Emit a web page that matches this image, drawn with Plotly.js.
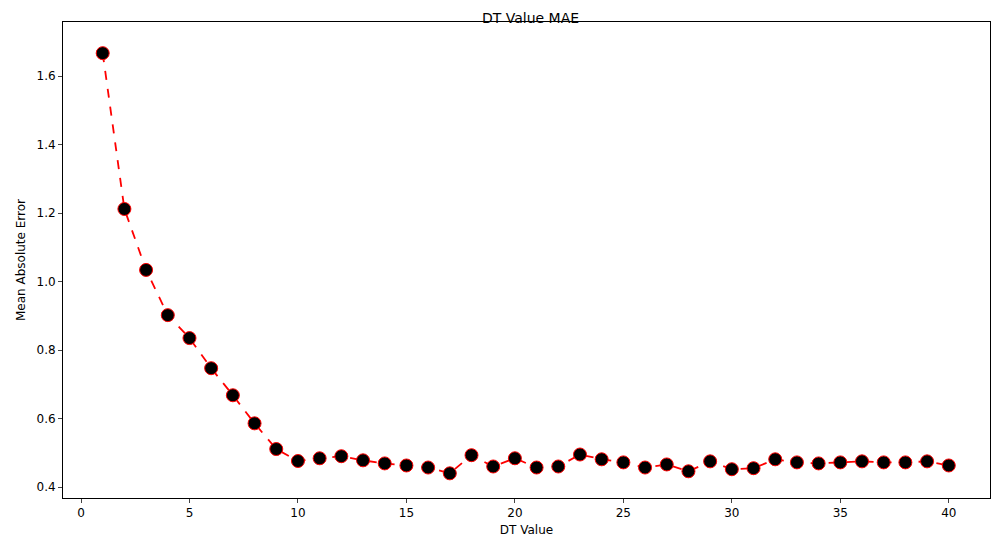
<!DOCTYPE html>
<html>
<head>
<script src="https://cdn.plot.ly/plotly-3.0.1.min.js"></script>
<style>body{margin:0;}</style>
</head>
<body>
<div id="myPlot" style="width:1001px;height:547px;"></div>
<script>
let dtValues = [];
for (let i = 1; i <= 40; i++) dtValues.push(i);
let mae = [1.667, 1.212, 1.034, 0.902, 0.835, 0.747, 0.668, 0.586, 0.511, 0.476,
  0.484, 0.490, 0.478, 0.469, 0.463, 0.457, 0.440, 0.493, 0.460, 0.484,
  0.457, 0.460, 0.495, 0.481, 0.472, 0.457, 0.466, 0.446, 0.475, 0.452,
  0.455, 0.481, 0.472, 0.469, 0.472, 0.475, 0.472, 0.472, 0.475, 0.463];

let trace = {
  x: dtValues,
  y: mae,
  type: 'scatter',
  mode: 'lines+markers',
  line: {color: 'red', dash: 'dash', width: 1.8},
  marker: {color: 'black', size: 13, line: {color: 'red', width: 1}}
};

let axisStyle = {
  showgrid: false, zeroline: false, showline: true, mirror: true,
  linecolor: 'black', linewidth: 1, ticks: 'outside', ticklen: 4,
  tickfont: {size: 12, color: 'black'}
};

let layout = {
  font: {family: 'DejaVu Sans, sans-serif', color: 'black'},
  title: {text: 'DT Value MAE', font: {size: 14}, x: 0.53, y: 0.975},
  margin: {l: 63, r: 11, t: 22, b: 49},
  showlegend: false,
  plot_bgcolor: 'white',
  xaxis: Object.assign({}, axisStyle, {
    range: [-0.83, 41.9], tickvals: [0, 5, 10, 15, 20, 25, 30, 35, 40],
    title: {text: 'DT Value', font: {size: 12}, standoff: 6}
  }),
  yaxis: Object.assign({}, axisStyle, {
    range: [0.368, 1.758], tickvals: [0.4, 0.6, 0.8, 1.0, 1.2, 1.4, 1.6],
    tickformat: '.1f',
    title: {text: 'Mean Absolute Error', font: {size: 12}, standoff: 8}
  })
};

Plotly.newPlot('myPlot', [trace], layout, {displayModeBar: false});
</script>
</body>
</html>
